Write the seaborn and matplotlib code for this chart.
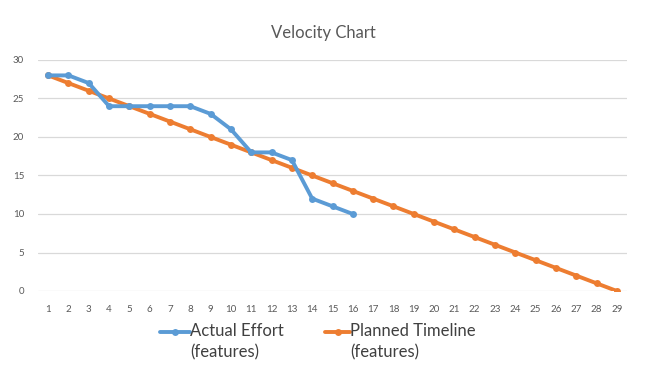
import matplotlib
matplotlib.use("Agg")
import matplotlib.pyplot as plt
from matplotlib.lines import Line2D
import seaborn as sns
import pandas as pd

sprints = list(range(1, 30))
actual_x = list(range(1, 17))
actual_effort = [28, 28, 27, 24, 24, 24, 24, 24, 23, 21, 18, 18, 17, 12, 11, 10]
planned_timeline = [28, 27, 26, 25, 24, 23, 22, 21, 20, 19, 18, 17, 16, 15, 14,
                    13, 12, 11, 10, 9, 8, 7, 6, 5, 4, 3, 2, 1, 0]
y_ticks = [0, 5, 10, 15, 20, 25, 30]
title = "Velocity Chart"
labels = ["Actual Effort\n(features)", "Planned Timeline\n(features)"]

BLUE = "#5B9BD5"
ORANGE = "#ED7D31"
GRAY = "#595959"

sns.set_theme(style="white")
plt.rcParams['font.family'] = ['Lato', 'DejaVu Sans']

fig = plt.figure(figsize=(6.64, 3.79), dpi=100)
ax = fig.add_axes([38/664, 1-291/379, (627-38)/664, (291-60)/379])

df_a = pd.DataFrame({"x": actual_x, "y": actual_effort})
df_p = pd.DataFrame({"x": sprints, "y": planned_timeline})
sns.lineplot(data=df_p, x="x", y="y", ax=ax, color=ORANGE, lw=2.8,
             marker="o", markersize=5, markeredgewidth=0, zorder=3)
sns.lineplot(data=df_a, x="x", y="y", ax=ax, color=BLUE, lw=2.8,
             marker="o", markersize=5, markeredgewidth=0, zorder=4)

ax.set_xlim(0.5, 29.5)
ax.set_ylim(0, 30)
ax.set_xticks(sprints)
ax.set_xticklabels([str(s) for s in sprints])
ax.set_yticks(y_ticks)
ax.grid(axis="y", color="#D9D9D9", lw=0.9)
ax.set_axisbelow(True)
for s in ax.spines.values():
    s.set_visible(False)
ax.tick_params(axis="both", length=0, labelsize=7, colors=GRAY)
ax.tick_params(axis="x", pad=10)
ax.tick_params(axis="y", pad=10)
ax.set_xlabel("")
ax.set_ylabel("")

fig.text(323/664, 1-33/379, title, ha="center", va="center",
         fontsize=12, color=GRAY)

# legend
for (x0, x1, c, tx, lab) in [(160, 190, BLUE, 190, labels[0]),
                             (325, 350, ORANGE, 350, labels[1])]:
    yy = 1 - 332/379
    fig.add_artist(Line2D([x0/664, x1/664], [yy, yy], color=c, lw=2.8,
                          transform=fig.transFigure))
    fig.add_artist(Line2D([(x0+x1)/2/664], [yy], color=c, marker="o",
                          markersize=5, markeredgewidth=0,
                          transform=fig.transFigure))
    fig.text(tx/664, 1-342/379, lab, ha="left", va="center", fontsize=12,
             color="#404040", linespacing=1.4)

fig.savefig("out.png", dpi=100)
